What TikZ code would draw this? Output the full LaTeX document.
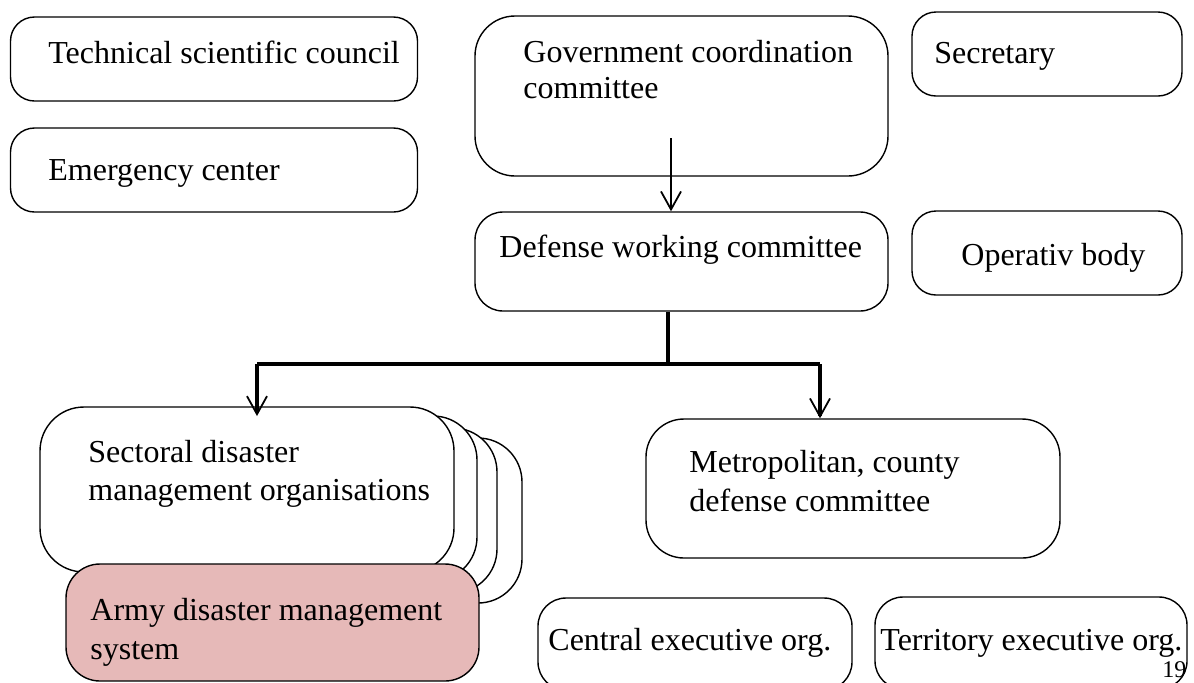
\documentclass[tikz,border=0pt]{standalone}
\usepackage{fontspec}
\setmainfont{Liberation Serif}
\usetikzlibrary{arrows.meta}

\begin{document}
\begin{tikzpicture}[x=0.5pt, y=-0.5pt, every node/.style={font=\fontsize{16}{18}\selectfont}, >={Straight Barb[length=9pt, width=10pt, line width=0.9pt]}]
	\tikzset{
		orgbox/.style={draw, line width=0.7pt, fill=white, inner sep=0pt},
		label/.style={anchor=base west, inner sep=0pt, align=left},
		link/.style={line width=1.8pt}
	}
	\useasboundingbox (0,0) rectangle (1194,682);
	\clip (0,0) rectangle (1194,682);
	% boxes on the left and right
	\node[orgbox, rounded corners=12pt, minimum width=203.5pt, minimum height=42pt] (tech) at (214,59) {};
	\node[orgbox, rounded corners=12pt, minimum width=203.5pt, minimum height=42pt] (emerg) at (214,170) {};
	\node[orgbox, rounded corners=12pt, minimum width=135pt, minimum height=42pt] (secr) at (1047,54) {};
	\node[orgbox, rounded corners=12pt, minimum width=135pt, minimum height=42pt] (oper) at (1047,253) {};
	% middle column
	\node[orgbox, rounded corners=20pt, minimum width=206.5pt, minimum height=80pt] (gov) at (681.5,96) {};
	\node[orgbox, rounded corners=14pt, minimum width=206.5pt, minimum height=49.5pt] (def) at (681.5,261.5) {};
	\node[orgbox, rounded corners=19pt, minimum width=207pt, minimum height=69.5pt] (metro) at (853,488.5) {};
	% sectoral stack
	\foreach \dx/\dy in {68/31, 43/21, 23/9} {
		\node[orgbox, rounded corners=22pt, minimum width=207pt, minimum height=82.5pt] at (247+\dx,489.5+\dy) {};
	}
	\node[orgbox, rounded corners=22pt, minimum width=207pt, minimum height=82.5pt] (sect) at (247,489.5) {};
	\node[orgbox, fill={rgb,255:red,230;green,185;blue,184}, rounded corners=17pt, minimum width=206.5pt, minimum height=58.5pt] (army) at (272.5,622.5) {};
	% executive organs
	\node[orgbox, rounded corners=14pt, minimum width=157pt, minimum height=46pt] (central) at (695,644) {};
	\node[orgbox, rounded corners=14pt, minimum width=156pt, minimum height=46pt] (terr) at (1031,643) {};
	% texts
	\node[label] at (48,63) {Technical scientific council};
	\node[label] at (48,180) {Emergency center};
	\node[label] at (934,63) {Secretary};
	\node[label] at (961,265) {Operativ body};
	\node[label] at (523,62) {Government coordination};
	\node[label] at (523,98) {committee};
	\node[label] at (499,257) {Defense working committee};
	\node[label] at (689,472) {Metropolitan, county};
	\node[label] at (689,511) {defense committee};
	\node[label] at (88,462) {Sectoral disaster};
	\node[label] at (88,500) {management organisations};
	\node[label] at (90,620) {Army disaster management};
	\node[label] at (90,659) {system};
	\node[label] at (548,650) {Central executive org.};
	\node[label] at (880,650) {Territory executive org.};
	\node[label, font=\fontsize{12}{14}\selectfont] (page) at (1162,677) {19};
	% connectors
	\coordinate (govarr) at (671,138);
	\coordinate (split) at (668,364);
	\coordinate (sectarr) at (257,416);
	\coordinate (metroarr) at (820,418);
	\draw[->, line width=1pt] (govarr) -- (govarr |- def.north);
	\draw[link] (split |- def.south) -- (split);
	\draw[link] (sectarr |- split) -- (metroarr |- split);
	\draw[->, link] (sectarr |- split) -- (sectarr);
	\draw[->, link] (metroarr |- split) -- (metroarr |- metro.north);
\end{tikzpicture}
\end{document}
